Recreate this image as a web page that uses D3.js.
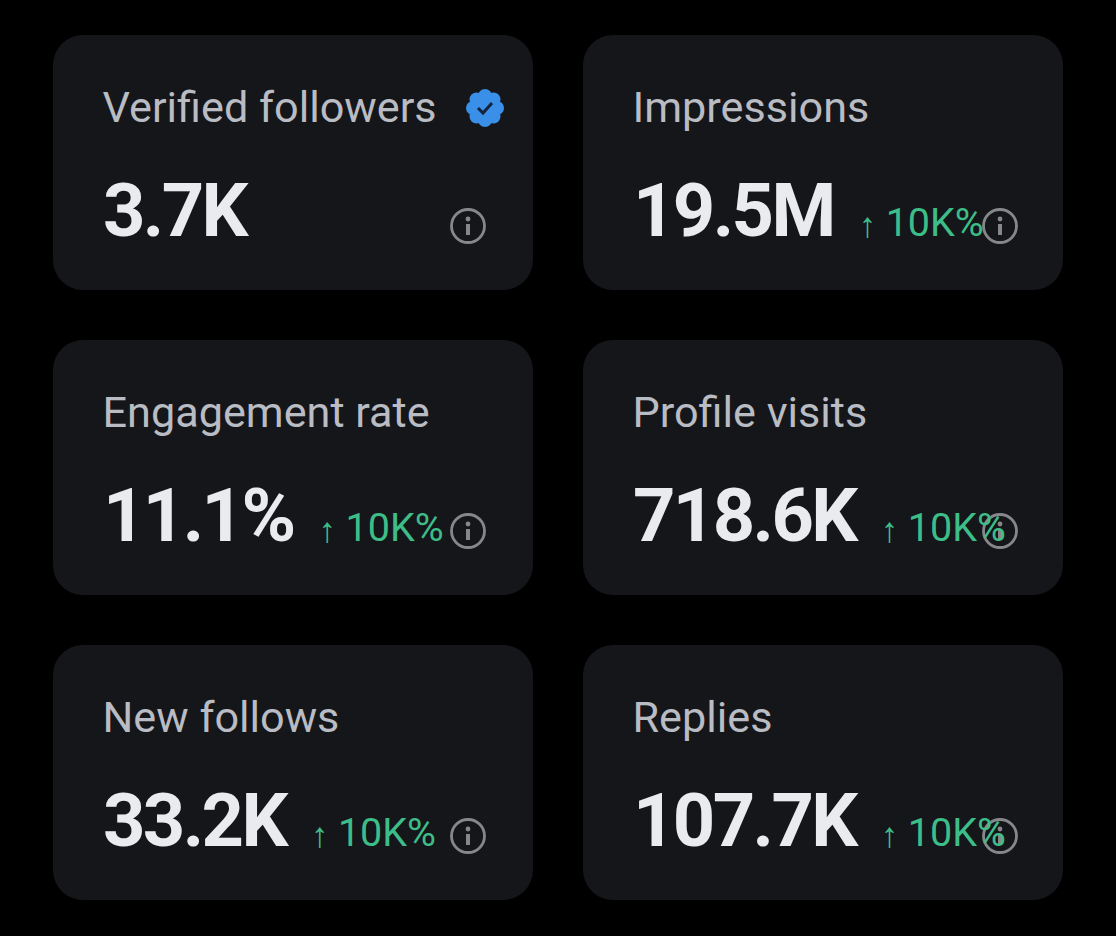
<!DOCTYPE html>
<html><head><meta charset="utf-8">
<script src="https://cdnjs.cloudflare.com/ajax/libs/d3/7.8.5/d3.min.js"></script>
<style>html,body{margin:0;background:#000}svg{display:block}text{font-family:Roboto,sans-serif}</style>
</head><body><svg id="c" width="1116" height="936"></svg>
<script>
const labels=["Verified followers","Impressions","Engagement rate","Profile visits","New follows","Replies"];
const values=["3.7K","19.5M","11.1%","718.6K","33.2K","107.7K"];
const deltas=[null,"10K%","10K%","10K%","10K%","10K%"];
const columns=[0,1];
const rows=[0,1,2];
const svg=d3.select("#c");
const x=d3.scalePoint().domain(columns).range([53,583]);
const y=d3.scalePoint().domain(rows).range([35,645]);
const W=480,H=255;
const card=svg.selectAll("g.card").data(labels.map((l,i)=>({l,v:values[i],d:deltas[i],i}))).join("g")
 .attr("class","card").attr("transform",d=>`translate(${x(d.i%2)},${y(Math.floor(d.i/2))})`);
card.append("rect").attr("width",W).attr("height",H).attr("rx",30).attr("fill","#15161a");
card.append("text").attr("x",49.5).attr("y",86.5).attr("font-size",43.2).attr("fill","#b9bcc2").text(d=>d.l);
const val=card.append("text").attr("x",50).attr("y",201).attr("font-size",74).attr("font-weight",700).attr("letter-spacing",-2.6).attr("fill","#e9ebee").text(d=>d.v);
// info icon
const iconX=d=>d.i%2?417:415;
const icon=card.append("g").attr("transform",d=>`translate(${iconX(d)},191)`);
icon.append("circle").attr("r",16.5).attr("fill","none").attr("stroke","#85878b").attr("stroke-width",2.8);
icon.append("circle").attr("cy",-7).attr("r",2.4).attr("fill","#85878b");
icon.append("rect").attr("x",-2).attr("y",-2).attr("width",4).attr("height",11).attr("fill","#85878b");
// delta
const dg=card.filter(d=>d.d);
const widths={};
val.each(function(d){widths[d.i]=this.getComputedTextLength();});
dg.append("text").attr("x",d=>50+widths[d.i]+25).attr("y",202).attr("font-size",35).attr("fill","#3dbd88").text("↑");
dg.append("text").attr("x",d=>50+widths[d.i]+52).attr("y",201).attr("font-size",39.5).attr("fill","#3dbd88").text(d=>d.d);
// verified badge
const b=card.filter(d=>d.i===0).append("g").attr("transform","translate(432,73)");
const badgeAngles=d3.range(0,360,45);
b.selectAll("circle").data(badgeAngles).join("circle").attr("cx",a=>12*Math.cos(a*Math.PI/180)).attr("cy",a=>12*Math.sin(a*Math.PI/180)).attr("r",7).attr("fill","#3a8fe8");
b.append("circle").attr("r",15).attr("fill","#3a8fe8");
b.append("path").attr("d","M-7,0 L-2,5 L7,-5").attr("fill","none").attr("stroke","#15233a").attr("stroke-width",3);
</script></body></html>
